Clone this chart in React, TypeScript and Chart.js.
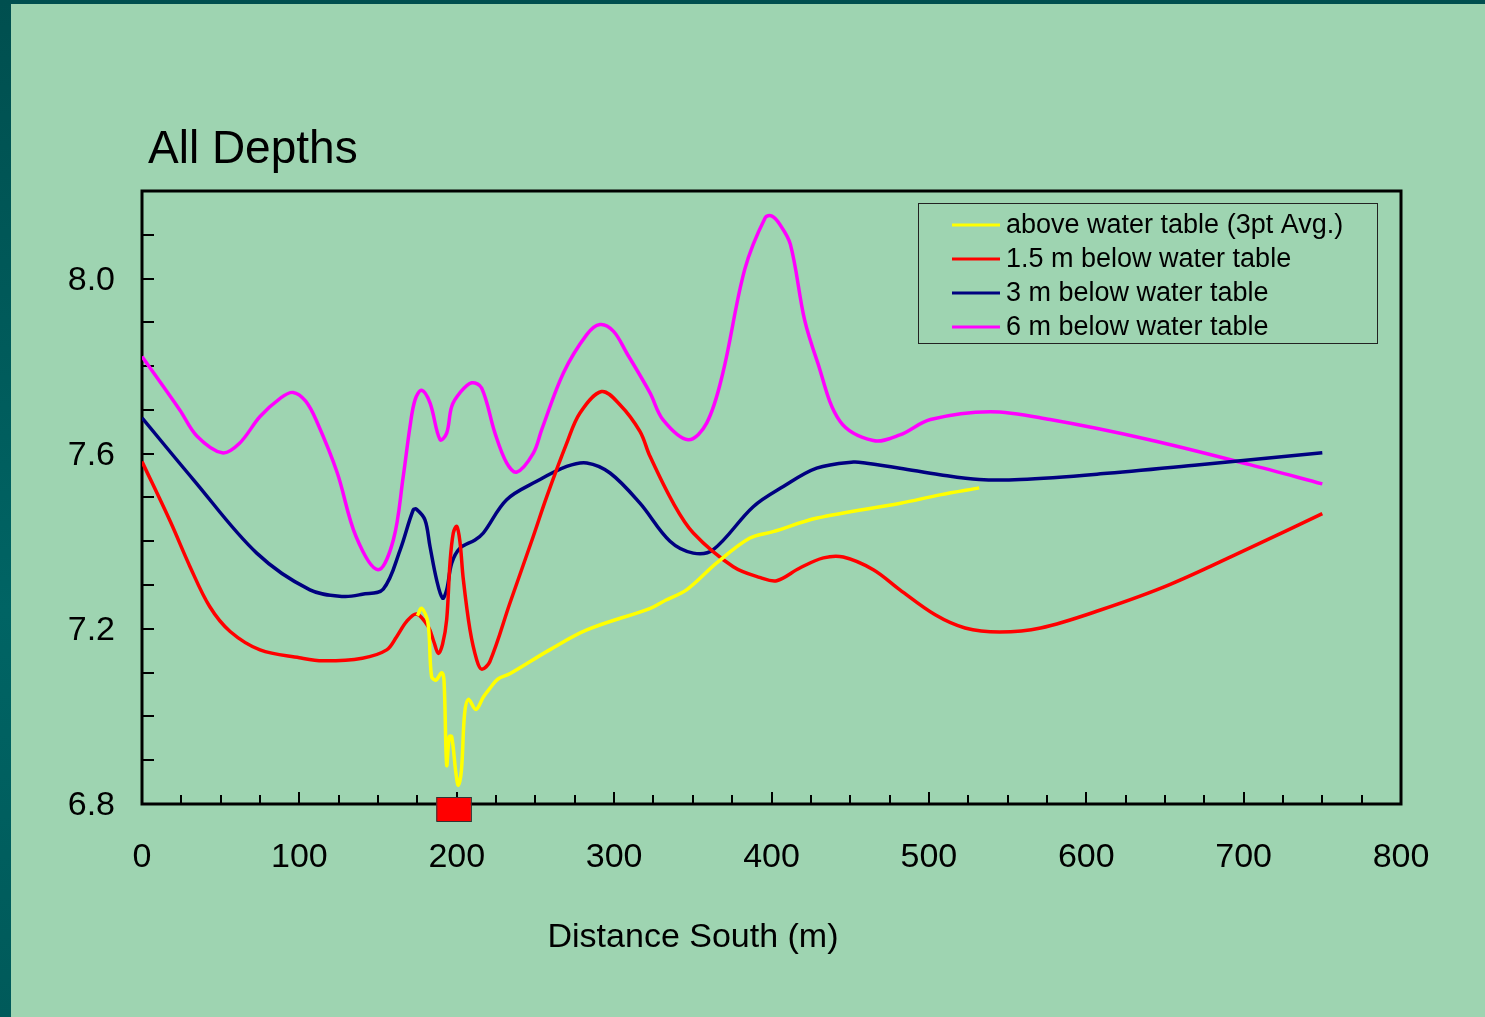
import React, { useEffect, useRef } from "react";
import { Chart, registerables } from "chart.js";

Chart.register(...registerables);

// ---------- data ----------
const titleText = "All Depths";
const xAxisLabel = "Distance South (m)";
const seriesLabels = [
  "above water table (3pt Avg.)",
  "1.5 m below water table",
  "3 m below water table",
  "6 m below water table",
];
const seriesColors = ["#ffff00", "#ff0000", "#000080", "#ff00ff"];

const yLabelValues = [6.8, 7.2, 7.6, 8.0];
const xLabelValues = [0, 100, 200, 300, 400, 500, 600, 700, 800];

const aboveX = [175, 177.7, 181.7, 184, 186.8, 190.4, 191.9, 193.6, 195.3, 196.8, 199.5, 201, 203, 205, 207.4, 212.2, 217, 221, 226, 234, 259, 283, 323, 333, 346, 365, 386, 401, 429, 482, 507, 532];
const aboveY = [7.23, 7.247, 7.214, 7.091, 7.083, 7.1, 7.083, 6.889, 6.954, 6.954, 6.87, 6.843, 6.878, 7.007, 7.039, 7.016, 7.045, 7.064, 7.085, 7.098, 7.152, 7.198, 7.247, 7.266, 7.289, 7.35, 7.407, 7.422, 7.453, 7.487, 7.506, 7.522];

const m15X = [0, 18, 30.5, 43, 56, 75, 100, 115, 140, 155.5, 161.8, 168.2, 174.5, 181.9, 185.5, 188.3, 191, 193.6, 195.7, 197.8, 200, 202, 204.2, 208.4, 212.7, 215.8, 221, 233.8, 248.6, 257.2, 269.9, 278.3, 292, 303.7, 316.4, 322.8, 337.6, 350.3, 375.7, 393, 403.3, 418, 433, 445.6, 464.7, 481.6, 504, 523, 545, 571, 609, 653, 704, 750];
const m15Y = [7.582, 7.445, 7.342, 7.251, 7.194, 7.152, 7.134, 7.127, 7.133, 7.152, 7.182, 7.217, 7.234, 7.205, 7.17, 7.144, 7.165, 7.221, 7.35, 7.419, 7.434, 7.4, 7.312, 7.198, 7.129, 7.108, 7.125, 7.259, 7.411, 7.502, 7.624, 7.693, 7.742, 7.712, 7.651, 7.594, 7.487, 7.419, 7.342, 7.317, 7.31, 7.339, 7.362, 7.364, 7.335, 7.289, 7.232, 7.202, 7.193, 7.202, 7.243, 7.301, 7.385, 7.463];

const m3X = [0, 32.6, 72.9, 106.7, 127.9, 140, 153.3, 164, 172.4, 174.5, 179.8, 183, 187.2, 191, 193.6, 196.8, 202, 211.6, 216.9, 231.7, 250.8, 269.9, 282.6, 297.4, 316.4, 335.5, 350.3, 363, 388.4, 407.5, 428.7, 452, 460.5, 481.6, 507, 532, 558, 609, 672, 750];
const m3Y = [7.682, 7.541, 7.373, 7.289, 7.274, 7.279, 7.291, 7.38, 7.472, 7.473, 7.449, 7.388, 7.312, 7.27, 7.289, 7.35, 7.384, 7.403, 7.419, 7.495, 7.537, 7.571, 7.579, 7.556, 7.487, 7.4, 7.373, 7.381, 7.479, 7.525, 7.567, 7.581, 7.578, 7.567, 7.552, 7.541, 7.541, 7.554, 7.575, 7.602];

const m6X = [0, 24, 35, 51, 62, 75, 88, 96, 104, 111, 124, 136, 150, 159.7, 166, 170.3, 173.5, 177.7, 183, 189.4, 193.6, 196.8, 202, 209.5, 215.8, 224.3, 231.7, 238.1, 248.6, 254, 267.7, 282.6, 291, 299.5, 308, 322.8, 331, 347, 358.8, 369, 383, 396, 400, 405, 412, 421, 428.7, 443.5, 464.7, 481.6, 501, 539, 577, 640, 704, 750];
const m6Y = [7.822, 7.7, 7.64, 7.602, 7.624, 7.685, 7.727, 7.74, 7.72, 7.674, 7.557, 7.411, 7.335, 7.403, 7.548, 7.662, 7.723, 7.745, 7.716, 7.632, 7.647, 7.708, 7.739, 7.762, 7.75, 7.647, 7.579, 7.558, 7.601, 7.655, 7.784, 7.872, 7.895, 7.88, 7.83, 7.739, 7.678, 7.632, 7.67, 7.783, 8.021, 8.139, 8.143, 8.125, 8.078, 7.906, 7.815, 7.674, 7.63, 7.643, 7.678, 7.696, 7.678, 7.632, 7.575, 7.531];

// red marker on the x axis (data units)
const markerFrom = 187;
const markerTo = 209;

const toPoints = (xs: number[], ys: number[]) => xs.map((x, i) => ({ x, y: ys[i] }));

const FONT = "'Liberation Sans', Arial, Helvetica, sans-serif";

const decorPlugin = {
  id: "decor",
  beforeDatasetsDraw(chart: any) {
    const { ctx, chartArea: a, scales } = chart;
    ctx.save();
    ctx.strokeStyle = "#000";
    ctx.lineWidth = 2;
    // y ticks every 0.1
    for (let i = 0; i <= 14; i++) {
      const v = 6.8 + i * 0.1;
      const py = Math.round(scales.y.getPixelForValue(v));
      ctx.beginPath();
      ctx.moveTo(a.left, py);
      ctx.lineTo(a.left + 12, py);
      ctx.stroke();
    }
    // x ticks every 25
    for (let v = 0; v <= 800; v += 25) {
      const px = Math.round(scales.x.getPixelForValue(v));
      const len = v % 100 === 0 ? 12 : 9;
      ctx.beginPath();
      ctx.moveTo(px, a.bottom);
      ctx.lineTo(px, a.bottom - len);
      ctx.stroke();
    }
    ctx.lineWidth = 3;
    ctx.strokeRect(a.left, a.top, a.right - a.left, a.bottom - a.top);
    ctx.restore();
  },
  afterDraw(chart: any) {
    const { ctx, chartArea: a, scales } = chart;
    ctx.save();
    // title
    ctx.fillStyle = "#000";
    ctx.font = `46px ${FONT}`;
    ctx.textAlign = "left";
    ctx.textBaseline = "alphabetic";
    ctx.fillText(titleText, 137, 159);
    // x axis label
    ctx.font = `34px ${FONT}`;
    ctx.textAlign = "center";
    ctx.fillText(xAxisLabel, 682, 943);
    // red marker
    const x1 = scales.x.getPixelForValue(markerFrom);
    const x2 = scales.x.getPixelForValue(markerTo);
    ctx.fillStyle = "#ff0000";
    ctx.fillRect(x1, a.bottom - 7, x2 - x1, 24);
    ctx.strokeStyle = "#333";
    ctx.lineWidth = 1;
    ctx.strokeRect(x1 + 0.5, a.bottom - 7 + 0.5, x2 - x1, 24);
    // legend
    const lx = 907, ly = 199, lw = 459, lh = 140;
    ctx.strokeStyle = "#222";
    ctx.lineWidth = 1;
    ctx.strokeRect(lx + 0.5, ly + 0.5, lw, lh);
    ctx.font = `27px ${FONT}`;
    ctx.textAlign = "left";
    ctx.textBaseline = "middle";
    chart.data.datasets.forEach((ds: any, i: number) => {
      const ry = 221 + i * 34;
      ctx.strokeStyle = ds.borderColor;
      ctx.lineWidth = 3;
      ctx.beginPath();
      ctx.moveTo(941, ry);
      ctx.lineTo(989, ry);
      ctx.stroke();
      ctx.fillStyle = "#000";
      ctx.fillText(ds.label, 995, ry + 1);
    });
    ctx.restore();
  },
};

export default function App() {
  const ref = useRef<HTMLCanvasElement | null>(null);
  useEffect(() => {
    if (!ref.current) return;
    const series = [
      toPoints(aboveX, aboveY),
      toPoints(m15X, m15Y),
      toPoints(m3X, m3Y),
      toPoints(m6X, m6Y),
    ];
    const chart = new Chart(ref.current, {
      type: "line",
      data: {
        datasets: series.map((d, i) => ({
          label: seriesLabels[i],
          data: d,
          borderColor: seriesColors[i],
          backgroundColor: seriesColors[i],
          borderWidth: 3.5,
          pointRadius: 0,
          tension: 0.35,
          fill: false,
        })),
      },
      options: {
        animation: false,
        responsive: false,
        layout: { padding: { left: 0, top: 187, right: 84, bottom: 0 } },
        plugins: { legend: { display: false }, title: { display: false }, tooltip: { enabled: false } },
        scales: {
          x: {
            type: "linear",
            min: 0,
            max: 800,
            grid: { display: false, drawTicks: false },
            border: { display: false },
            ticks: {
              stepSize: 100,
              padding: 33,
              color: "#000",
              font: { family: FONT, size: 34 },
              maxRotation: 0,
              autoSkip: false,
              callback: (v: any) => (xLabelValues.includes(Number(v)) ? String(v) : ""),
            },
            afterFit: (s: any) => {
              s.height = 213;
              s.paddingLeft = 0;
              s.paddingRight = 0;
            },
          },
          y: {
            type: "linear",
            min: 6.8,
            max: 8.2,
            grid: { display: false, drawTicks: false },
            border: { display: false },
            ticks: {
              stepSize: 0.1,
              padding: 27,
              labelOffset: 2,
              color: "#000",
              font: { family: FONT, size: 34 },
              autoSkip: false,
              callback: (v: any) => {
                const n = Number(v);
                return yLabelValues.some((t) => Math.abs(t - n) < 1e-6) ? n.toFixed(1) : "";
              },
            },
            afterFit: (s: any) => {
              s.width = 131;
              s.paddingTop = 0;
              s.paddingBottom = 0;
            },
          },
        },
      },
      plugins: [decorPlugin],
    });
    return () => chart.destroy();
  }, []);

  return (
    <div
      style={{
        position: "fixed",
        left: 0,
        top: 0,
        width: 1485,
        height: 1017,
        background: "linear-gradient(180deg, #004f4f 0%, #006464 60%, #005a5a 100%)",
        overflow: "hidden",
      }}
    >
      <div
        style={{
          position: "absolute",
          left: 11,
          top: 4,
          width: 1474,
          height: 1013,
          background: "#9ed4b1",
        }}
      >
        <canvas ref={ref} width={1474} height={1013} style={{ display: "block" }} />
      </div>
    </div>
  );
}
